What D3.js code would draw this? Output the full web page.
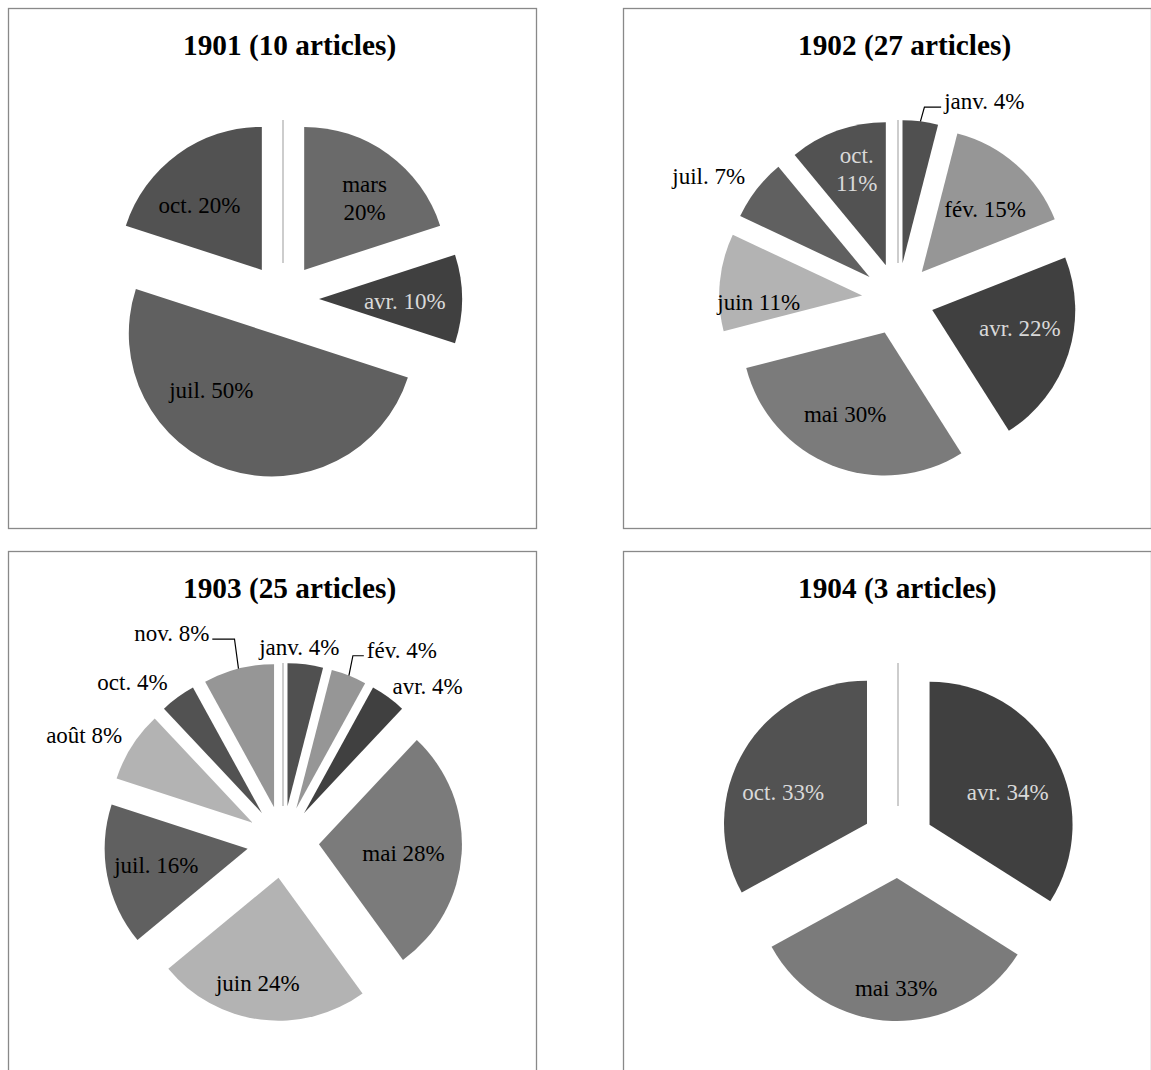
<!DOCTYPE html>
<html><head><meta charset="utf-8">
<script src="https://cdn.jsdelivr.net/npm/d3@7"></script>
<style>body{margin:0;background:#fff} svg{display:block}</style>
</head><body>
<svg id="c" width="1151" height="1070"></svg>
<script>
// ---- data ----
const titles = ["1901 (10 articles)", "1902 (27 articles)", "1903 (25 articles)", "1904 (3 articles)"];
const months1901 = ["", "mars", "avr.", "juil.", "oct."];
const values1901 = [0, 20, 10, 50, 20];
const months1902 = ["", "janv.", "fév.", "avr.", "mai", "juin", "juil.", "oct."];
const values1902 = [0, 4, 15, 22, 30, 11, 7, 11];
const months1903 = ["", "janv.", "fév.", "avr.", "mai", "juin", "juil.", "août", "oct.", "nov."];
const values1903 = [0, 4, 4, 4, 28, 24, 16, 8, 4, 8];
const months1904 = ["", "avr.", "mai", "oct."];
const values1904 = [0, 34, 33, 33];
const monthNames  = ["janv.", "fév.", "mars", "avr.", "mai", "juin", "juil.", "août", "oct.", "nov."];
const monthColors = ["#505050", "#969696", "#6a6a6a", "#404040", "#7b7b7b", "#b3b3b3", "#606060", "#b3b3b3", "#525252", "#969696"];

// ---- layout ----
const W = 1151, H = 1070;
const panels = [{x: 8, y: 8}, {x: 623, y: 8}, {x: 8, y: 551}, {x: 623, y: 551}];
const PW = 528, PH = 520;
const R = 143, EXPLODE = 36, LABEL_R = 0.6;
const PIE_DX = 275, PIE_DY = 291, TITLE_DX = 175, TITLE_DY = 47;
const FONT = "'Liberation Serif','Times New Roman',Times,serif";
// label nudges [dx, dy] from the default in-slice position, plus style flags
const labelLayout = {
  "1901|mars":  {n: [10, -2], wrap: true},
  "1901|avr.":  {n: [0, 2], light: true},
  "1901|juil.": {n: [-34, -25]},
  "1901|oct.":  {n: [-12, 5]},
  "1902|janv.": {n: [71, -77], leader: true},
  "1902|fév.":  {n: [6.5, 1.4]},
  "1902|avr.":  {n: [6, -8.6], light: true},
  "1902|mai":   {n: [-8, 2]},
  "1902|juin":  {n: [-18, 14.5]},
  "1902|juil.": {n: [-93, -48]},
  "1902|oct.":  {n: [0, -15], wrap: true, light: true},
  "1903|janv.": {n: [1, -74]},
  "1903|fév.":  {n: [74, -79], leader: true},
  "1903|avr.":  {n: [73, -57.5]},
  "1903|mai":   {n: [-1, 3]},
  "1903|juin":  {n: [-10, 20]},
  "1903|juil.": {n: [-7, 0]},
  "1903|août":  {n: [-96, -42]},
  "1903|oct.":  {n: [-79, -61]},
  "1903|nov.":  {n: [-81, -91], leader: true},
  "1904|avr.":  {n: [3, 9], light: true},
  "1904|mai":   {n: [2, 24]},
  "1904|oct.":  {n: [-10, 12], light: true}
};

const datasets = [
  {months: months1901, values: values1901},
  {months: months1902, values: values1902},
  {months: months1903, values: values1903},
  {months: months1904, values: values1904}
];

const color = d3.scaleOrdinal(monthNames, monthColors);
const svg = d3.select("#c");
svg.append("rect").attr("width", W).attr("height", H).attr("fill", "#fff");

const pie = d3.pie().sort(null).value(d => d.v);
const arc = d3.arc().innerRadius(0).outerRadius(R);

datasets.forEach((ds, i) => {
  const p = panels[i];
  const year = titles[i].slice(0, 4);
  const g = svg.append("g");
  g.append("rect")
    .attr("x", p.x + 0.5).attr("y", p.y + 0.5)
    .attr("width", PW).attr("height", PH)
    .attr("fill", "none").attr("stroke", "#898989").attr("stroke-width", 1.3);
  g.append("text")
    .attr("x", p.x + TITLE_DX).attr("y", p.y + TITLE_DY)
    .attr("font-family", FONT).attr("font-weight", "bold").attr("font-size", 29.3)
    .attr("fill", "#000").text(titles[i]);

  const cx = p.x + PIE_DX, cy = p.y + PIE_DY;
  const pg = g.append("g").attr("transform", `translate(${cx},${cy})`);
  const lg = g.append("g").attr("transform", `translate(${cx},${cy})`);
  const arcs = pie(ds.months.map((m, j) => ({m, v: ds.values[j]})));

  arcs.forEach(a => {
    const c = (a.startAngle + a.endAngle) / 2;
    const ux = Math.sin(c), uy = -Math.cos(c);
    const ox = ux * EXPLODE, oy = uy * EXPLODE;
    if (a.value === 0) {
      pg.append("path").attr("d", arc(a)).attr("transform", `translate(${ox},${oy})`)
        .attr("fill", "none").attr("stroke", "#bdbdbd").attr("stroke-width", 1.5);
      return;
    }
    pg.append("path").attr("d", arc(a)).attr("transform", `translate(${ox},${oy})`)
      .attr("fill", color(a.data.m));

    const lay = labelLayout[year + "|" + a.data.m] || {n: [0, 0]};
    const lx = ox + ux * R * LABEL_R + lay.n[0];
    const ly = oy + uy * R * LABEL_R + lay.n[1];
    const fill = lay.light ? "#d9d9d9" : "#000";
    const t = lg.append("text")
      .attr("font-family", FONT).attr("font-size", 23)
      .attr("text-anchor", "middle").attr("fill", fill);
    const pct = a.data.v + "%";
    if (lay.wrap) {
      t.append("tspan").attr("x", lx).attr("y", ly + 8 - 14).text(a.data.m);
      t.append("tspan").attr("x", lx).attr("y", ly + 8 + 14).text(pct);
    } else {
      t.attr("x", lx).attr("y", ly + 8).text(a.data.m + " " + pct);
    }
    if (lay.leader) {
      const tw = t.node().getComputedTextLength();
      const sx = ox + ux * R, sy = oy + uy * R;
      const side = lx > sx ? 1 : -1;
      const hy = ly + 6;
      const edge = lx - side * (tw / 2 + 3);
      lg.append("path")
        .attr("d", d3.line()([[sx, sy], [sx + side * 4, hy], [edge, hy]]))
        .attr("fill", "none").attr("stroke", "#000").attr("stroke-width", 1.2);
    }
  });
});
</script>
</body></html>
